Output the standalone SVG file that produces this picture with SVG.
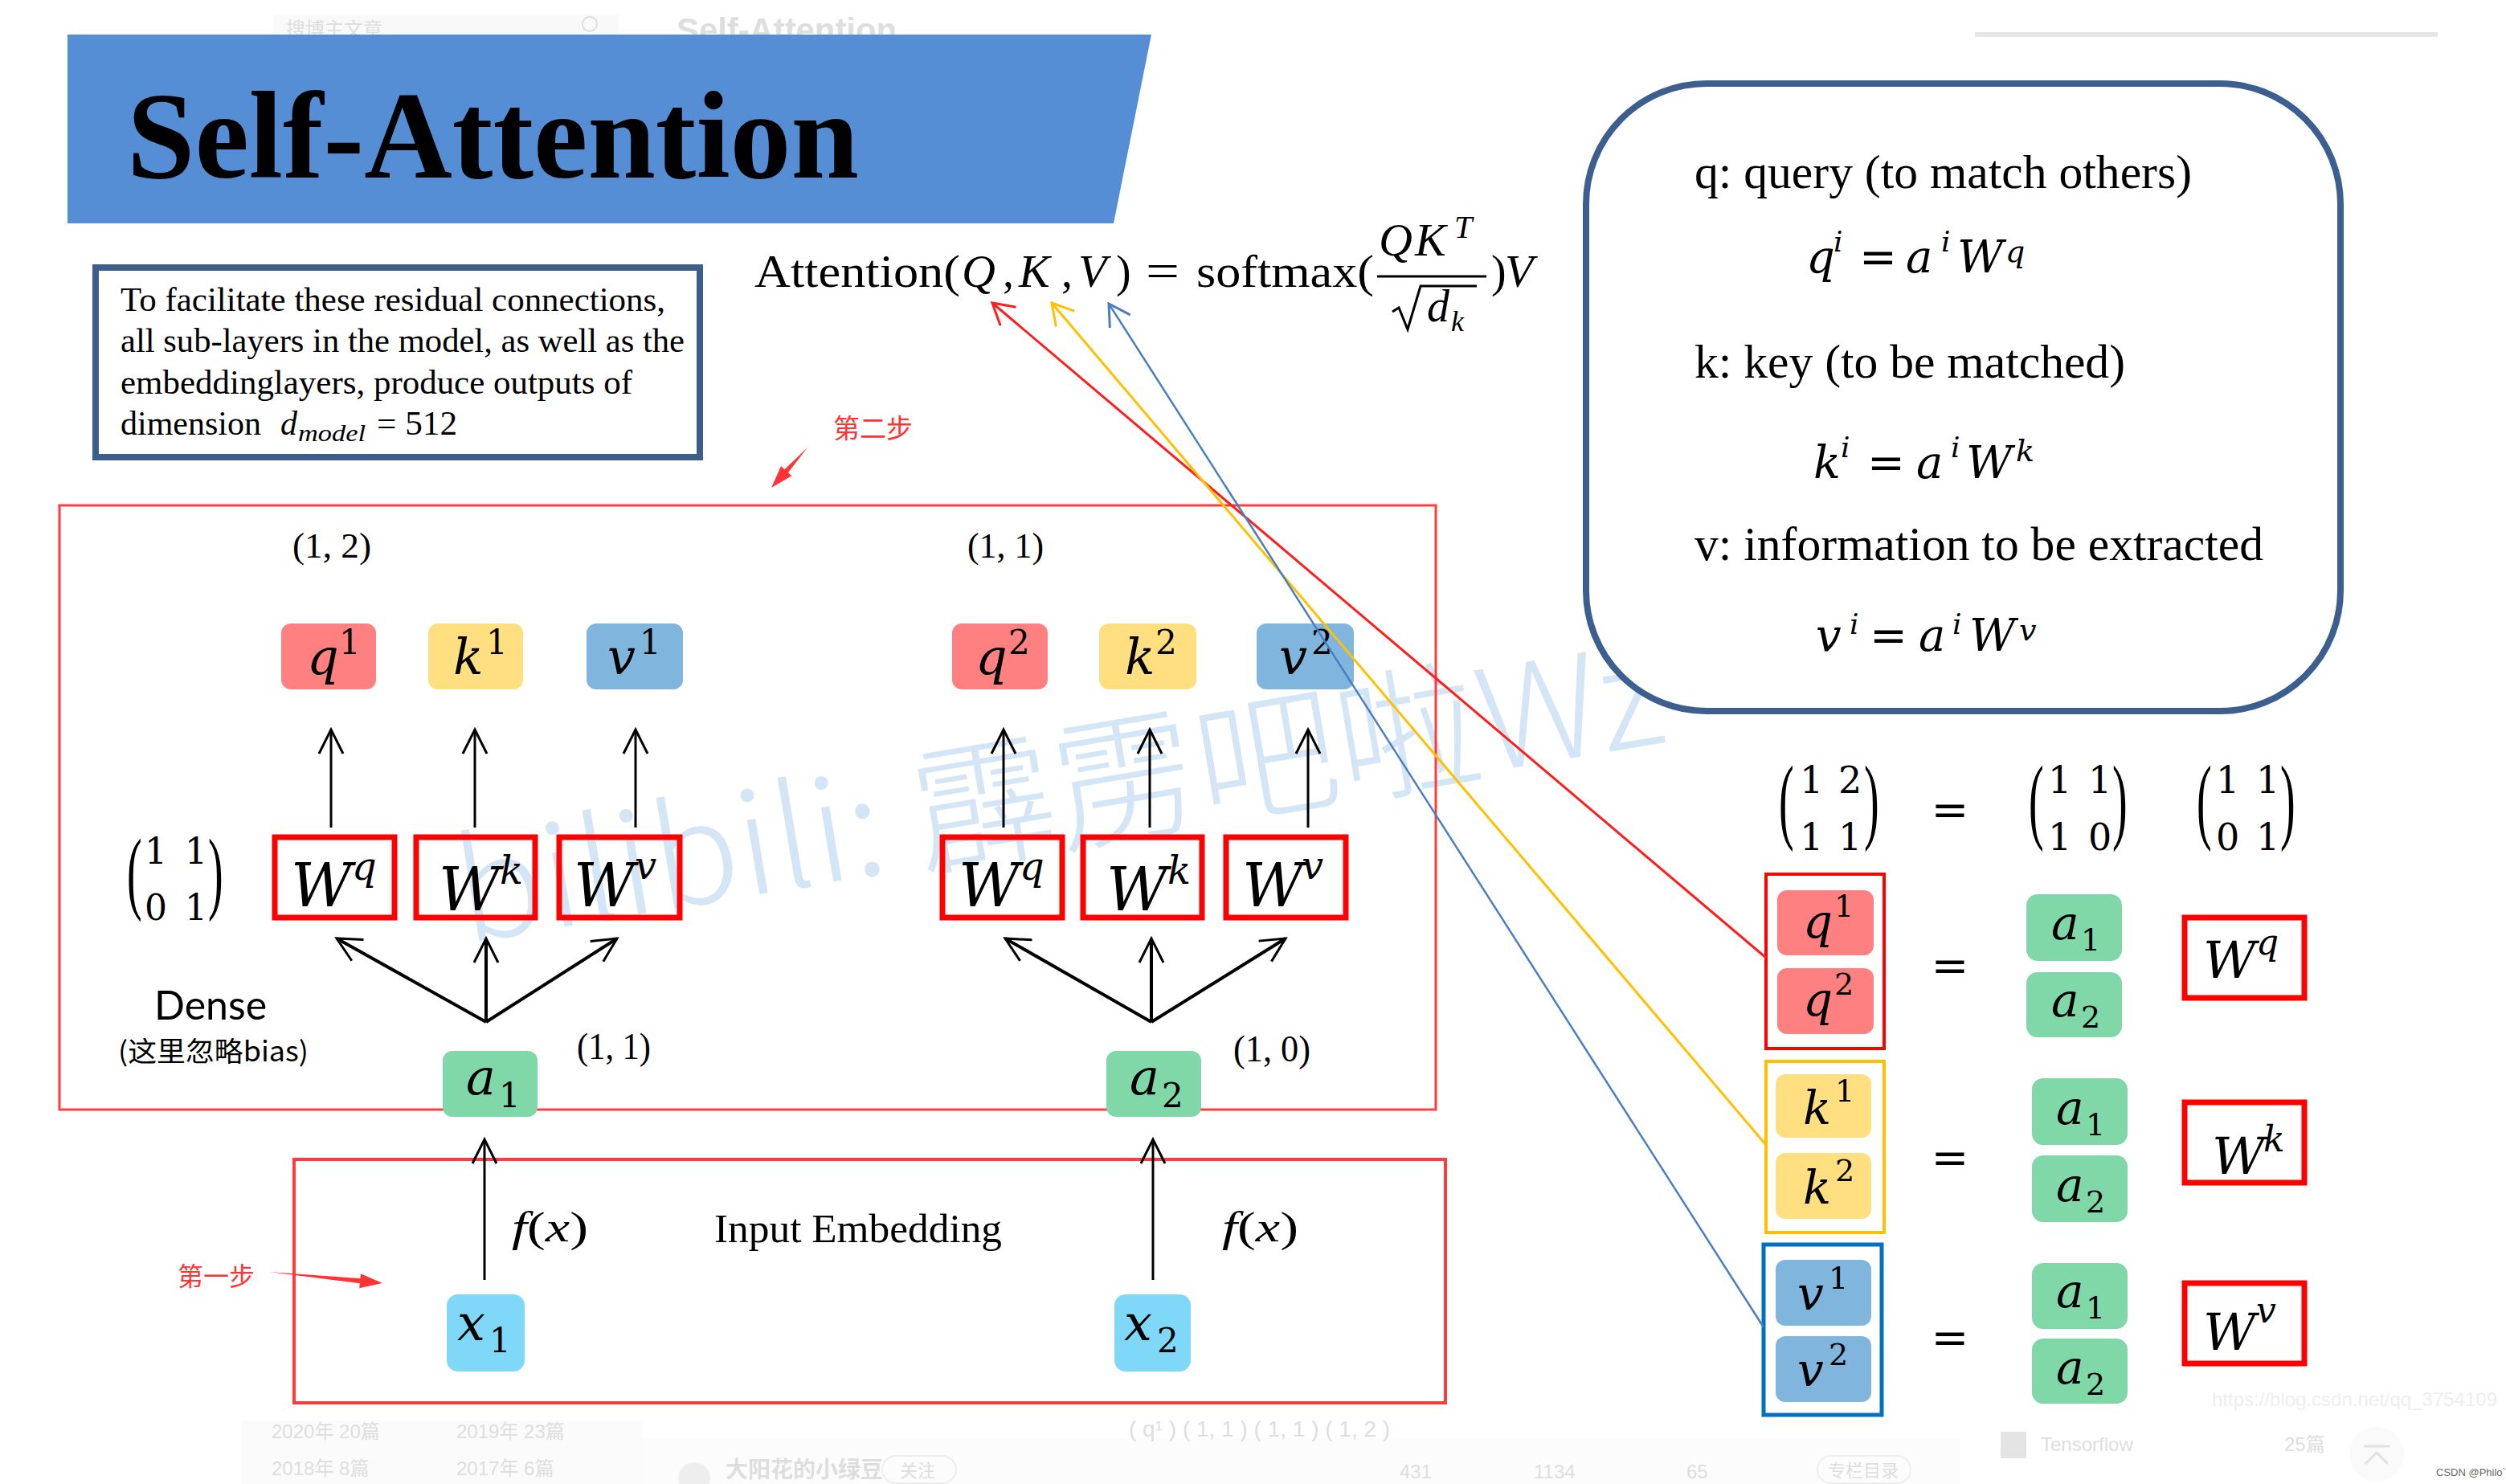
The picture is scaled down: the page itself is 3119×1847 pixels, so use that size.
<svg xmlns="http://www.w3.org/2000/svg" width="3119" height="1847" viewBox="0 0 3119 1847">
<defs>
<style>
.serif{font-family:"Liberation Serif","Times New Roman",serif;fill:#000}
.it{font-style:italic}
.m{font-family:"DejaVu Serif",serif;font-style:italic;fill:#000}
.d{font-family:"DejaVu Serif",serif;font-style:normal;fill:#000}
.faint{font-family:"Liberation Sans","Noto Sans CJK SC",sans-serif;fill:#DEDEDE}
.cjk{font-family:"Noto Sans CJK SC",sans-serif}
.q{fill:#FF8080}
.k{fill:#FFDF80}
.v{fill:#80B5DE}
.a{fill:#80D7A7}
.x{fill:#80D8F8}
.wbox{fill:none;stroke:#FF0000;stroke-width:7}
.up{stroke:#000;stroke-width:3;fill:none}
.fan{stroke:#000;stroke-width:4;fill:none}
</style>
<marker id="ah" markerUnits="userSpaceOnUse" viewBox="-40 -20 44 40" refX="0" refY="0" markerWidth="44" markerHeight="40" orient="auto" overflow="visible">
<path d="M-30,-15 L0,0 L-30,15" fill="none" stroke="#000" stroke-width="3"/>
</marker>
<marker id="ahr" markerUnits="userSpaceOnUse" viewBox="-40 -20 44 40" refX="0" refY="0" markerWidth="44" markerHeight="40" orient="auto" overflow="visible">
<path d="M-26,-15 L0,0 L-26,15" fill="none" stroke="#FF1E1E" stroke-width="3"/>
</marker>
<marker id="ahy" markerUnits="userSpaceOnUse" viewBox="-40 -20 44 40" refX="0" refY="0" markerWidth="44" markerHeight="40" orient="auto" overflow="visible">
<path d="M-26,-15 L0,0 L-26,15" fill="none" stroke="#FFC000" stroke-width="3"/>
</marker>
<marker id="ahb" markerUnits="userSpaceOnUse" viewBox="-40 -20 44 40" refX="0" refY="0" markerWidth="44" markerHeight="40" orient="auto" overflow="visible">
<path d="M-26,-15 L0,0 L-26,15" fill="none" stroke="#4A7EC2" stroke-width="3"/>
</marker>
</defs>
<rect width="3119" height="1847" fill="#FFFFFF"/>

<!-- faint webpage background -->
<g id="background">
<rect x="340" y="18" width="430" height="40" fill="#F9F9F9"/>
<text x="356" y="45" class="faint" font-size="24">搜博主文章</text>
<circle cx="734" cy="30" r="9" fill="none" stroke="#DDDDDD" stroke-width="2"/>
<text x="842" y="52" class="faint" font-size="42" font-weight="bold" textLength="274" lengthAdjust="spacingAndGlyphs">Self-Attention</text>
<rect x="2458" y="40" width="576" height="6" fill="#E6E6E6"/>
<rect x="300" y="1768" width="500" height="79" fill="#FBFBFB"/>
<rect x="800" y="1790" width="1640" height="57" fill="#FCFCFC"/>
<text x="338" y="1790" class="faint" font-size="24">2020年 20篇</text>
<text x="568" y="1790" class="faint" font-size="24">2019年 23篇</text>
<text x="338" y="1836" class="faint" font-size="24">2018年 8篇</text>
<text x="568" y="1836" class="faint" font-size="24">2017年 6篇</text>
<text x="1405" y="1788" class="faint" font-size="28">( q¹ )    ( 1, 1 ) ( 1, 1 )    ( 1, 2 )</text>
<circle cx="864" cy="1840" r="20" fill="#EEEEEE"/>
<text x="903" y="1839" class="faint" font-size="28" font-weight="bold">大阳花的小绿豆</text>
<rect x="1098" y="1812" width="92" height="34" rx="17" fill="none" stroke="#EEEEEE" stroke-width="2"/>
<text x="1120" y="1838" class="faint" font-size="22">关注</text>
<text x="1742" y="1840" class="faint" font-size="24">431</text>
<text x="1909" y="1840" class="faint" font-size="24">1134</text>
<text x="2099" y="1840" class="faint" font-size="24">65</text>
<rect x="2262" y="1812" width="116" height="34" rx="17" fill="none" stroke="#EEEEEE" stroke-width="2"/>
<text x="2275" y="1838" class="faint" font-size="22">专栏目录</text>
<rect x="2490" y="1782" width="32" height="33" fill="#E4E4E4"/>
<text x="2540" y="1806" class="faint" font-size="24">Tensorflow</text>
<text x="2843" y="1806" class="faint" font-size="24">25篇</text>
<circle cx="2958" cy="1810" r="34" fill="#FAFAFA"/>
<path d="M2942,1800 L2974,1800 M2944,1822 L2958,1808 L2972,1822" fill="none" stroke="#E0E0E0" stroke-width="3"/>
<text x="2753" y="1750" class="faint" font-size="24" textLength="355" lengthAdjust="spacingAndGlyphs" style="fill:#EEEEEE">https://blog.csdn.net/qq_3754109</text>
<text x="3032" y="1837" font-family="Liberation Sans,sans-serif" font-size="13" fill="#666666">CSDN @Philo`</text>
</g>

<!-- watermark -->
<text id="watermark" x="579" y="1174" transform="rotate(-9.5 579 1174)" font-family="Noto Sans CJK SC,sans-serif" font-weight="300" font-size="175" fill="#D4E5F5" textLength="1520" lengthAdjust="spacingAndGlyphs">bilibili: 霹雳吧啦Wz</text>

<!-- title -->
<g id="title">
<polygon points="84,43 1433,43 1386,278 84,278" fill="#558ED5"/>
<text x="158" y="221" class="serif" font-size="155" font-weight="bold" textLength="911" lengthAdjust="spacingAndGlyphs">Self-Attention</text>
</g>

<!-- residual text box -->
<g id="residual-note">
<rect x="119" y="333" width="752" height="236" fill="#FFFFFF" stroke="#3B5E8C" stroke-width="8"/>
<text x="150" y="387" class="serif" font-size="42" textLength="678" lengthAdjust="spacingAndGlyphs">To facilitate these residual connections,</text>
<text x="150" y="438" class="serif" font-size="42" textLength="702" lengthAdjust="spacingAndGlyphs">all sub-layers in the model, as well as the</text>
<text x="150" y="490" class="serif" font-size="42" textLength="637" lengthAdjust="spacingAndGlyphs">embeddinglayers, produce outputs of</text>
<text x="150" y="541" class="serif" font-size="42" textLength="175" lengthAdjust="spacingAndGlyphs">dimension</text>
<text x="349" y="541" class="serif it" font-size="42">d</text>
<text x="371" y="549" class="serif it" font-size="30" textLength="84" lengthAdjust="spacingAndGlyphs">model</text>
<text x="469" y="541" class="serif" font-size="42" textLength="100" lengthAdjust="spacingAndGlyphs">= 512</text>
</g>

<!-- attention formula -->
<g id="formula">
<text x="939" y="357" class="serif" font-size="56" textLength="256" lengthAdjust="spacingAndGlyphs">Attention(</text>
<text x="1197" y="357" class="serif it" font-size="58">Q</text>
<text x="1248" y="357" class="serif" font-size="56">,</text>
<text x="1268" y="357" class="serif it" font-size="58">K</text>
<text x="1321" y="357" class="serif" font-size="56">,</text>
<text x="1342" y="357" class="serif it" font-size="58">V</text>
<text x="1389" y="357" class="serif" font-size="56">)</text>
<text x="1426" y="357" class="serif" font-size="60" textLength="42" lengthAdjust="spacingAndGlyphs">=</text>
<text x="1489" y="357" class="serif" font-size="56" textLength="221" lengthAdjust="spacingAndGlyphs">softmax(</text>
<text x="1716" y="318" class="serif it" font-size="58">Q</text>
<text x="1761" y="318" class="serif it" font-size="58">K</text>
<text x="1810" y="296" class="serif it" font-size="40">T</text>
<line x1="1714" y1="344" x2="1850" y2="344" stroke="#000" stroke-width="3"/>
<polyline points="1733,388 1741,383 1752,410 1768,356 1838,356" fill="none" stroke="#000" stroke-width="3"/>
<text x="1776" y="400" class="serif it" font-size="56">d</text>
<text x="1806" y="412" class="serif it" font-size="36">k</text>
<text x="1856" y="357" class="serif" font-size="56">)</text>
<text x="1873" y="357" class="serif it" font-size="58">V</text>
</g>

<!-- q k v definition box -->
<g id="definitions">
<rect x="1974" y="104" width="939" height="781" rx="150" ry="150" fill="#FFFFFF" stroke="#3C5F8F" stroke-width="8"/>
<text x="2109" y="234" class="serif" font-size="60" textLength="619" lengthAdjust="spacingAndGlyphs">q: query (to match others)</text>
<text class="m" font-size="56"><tspan x="2248" y="339">q</tspan><tspan x="2282" y="313" font-size="36">i</tspan><tspan x="2314" y="339" class="d">=</tspan><tspan x="2372" y="339">a</tspan><tspan x="2416" y="313" font-size="36">i</tspan><tspan x="2436" y="339">W</tspan><tspan x="2496" y="326" font-size="38">q</tspan></text>
<text x="2109" y="470" class="serif" font-size="60" textLength="536" lengthAdjust="spacingAndGlyphs">k: key (to be matched)</text>
<text class="m" font-size="56"><tspan x="2257" y="595">k</tspan><tspan x="2291" y="569" font-size="36">i</tspan><tspan x="2324" y="595" class="d">=</tspan><tspan x="2385" y="595">a</tspan><tspan x="2428" y="569" font-size="36">i</tspan><tspan x="2447" y="595">W</tspan><tspan x="2509" y="574" font-size="38">k</tspan></text>
<text x="2109" y="697" class="serif" font-size="60" textLength="708" lengthAdjust="spacingAndGlyphs">v: information to be extracted</text>
<text class="m" font-size="56"><tspan x="2260" y="810">v</tspan><tspan x="2302" y="789" font-size="36">i</tspan><tspan x="2327" y="810" class="d">=</tspan><tspan x="2388" y="810">a</tspan><tspan x="2430" y="789" font-size="36">i</tspan><tspan x="2451" y="810">W</tspan><tspan x="2513" y="797" font-size="38">v</tspan></text>
</g>

<!-- containers -->
<g id="dense-layer">
<rect x="74" y="629" width="1713" height="752" fill="none" stroke="#FF3B3B" stroke-width="3"/>
<text x="192" y="1269" font-family="Lato,Liberation Sans,sans-serif" font-size="50" fill="#000">Dense</text>
<text x="147" y="1321" class="cjk" font-size="34" fill="#000" textLength="237" lengthAdjust="spacingAndGlyphs">(这里忽略bias)</text>
<text x="364" y="694" class="serif" font-size="44" textLength="98" lengthAdjust="spacingAndGlyphs">(1, 2)</text>
<text x="1204" y="694" class="serif" font-size="44" textLength="95" lengthAdjust="spacingAndGlyphs">(1, 1)</text>
<text x="718" y="1318" class="serif" font-size="46" textLength="92" lengthAdjust="spacingAndGlyphs">(1, 1)</text>
<text x="1535" y="1321" class="serif" font-size="46" textLength="96" lengthAdjust="spacingAndGlyphs">(1, 0)</text>
</g>
<g id="dense-matrix">
<text transform="translate(158,1123) scale(1,2.05)" class="serif" font-size="56">(</text>
<text transform="translate(259,1123) scale(1,2.05)" class="serif" font-size="56">)</text>
<text x="180" y="1075" class="d" font-size="44">1</text>
<text x="230" y="1075" class="d" font-size="44">1</text>
<text x="180" y="1145" class="d" font-size="44">0</text>
<text x="230" y="1145" class="d" font-size="44">1</text>
</g>
<g id="input-embedding">
<rect x="366" y="1443" width="1433" height="303" fill="none" stroke="#FF3B3B" stroke-width="4"/>
<text x="889" y="1546" class="serif" font-size="51" textLength="358" lengthAdjust="spacingAndGlyphs">Input Embedding</text>
<text x="637" y="1545" class="serif" font-size="52" textLength="95" lengthAdjust="spacingAndGlyphs"><tspan class="it">f</tspan>(<tspan class="it">x</tspan>)</text>
<text x="1521" y="1545" class="serif" font-size="52" textLength="95" lengthAdjust="spacingAndGlyphs"><tspan class="it">f</tspan>(<tspan class="it">x</tspan>)</text>
</g>

<!-- step labels -->
<g id="step1">
<text x="221" y="1600" class="cjk" font-size="32" fill="#FF3333">第一步</text>
<polygon points="335,1583 448.4,1591.2 449,1585.2 476,1597 447.2,1603.2 447.8,1597.2" fill="#FF3333"/>
</g>
<g id="step2">
<text x="1037" y="545" class="cjk" font-size="33" fill="#FF3333">第二步</text>
<polygon points="1005,557 980.9,588.2 985.4,592.2 960,607 972,580.2 976.5,584.2" fill="#FF3333"/>
</g>

<!-- connectors -->
<g id="connectors">
<line x1="412" y1="1030" x2="412" y2="908" class="up" marker-end="url(#ah)"/>
<line x1="591" y1="1030" x2="591" y2="908" class="up" marker-end="url(#ah)"/>
<line x1="791" y1="1030" x2="791" y2="908" class="up" marker-end="url(#ah)"/>
<line x1="1249" y1="1030" x2="1249" y2="908" class="up" marker-end="url(#ah)"/>
<line x1="1431" y1="1030" x2="1431" y2="908" class="up" marker-end="url(#ah)"/>
<line x1="1628" y1="1030" x2="1628" y2="908" class="up" marker-end="url(#ah)"/>
<line x1="605" y1="1272" x2="419" y2="1168" class="fan" marker-end="url(#ah)"/>
<line x1="605" y1="1272" x2="605" y2="1168" class="fan" marker-end="url(#ah)"/>
<line x1="605" y1="1272" x2="768" y2="1168" class="fan" marker-end="url(#ah)"/>
<line x1="1433" y1="1272" x2="1251" y2="1168" class="fan" marker-end="url(#ah)"/>
<line x1="1433" y1="1272" x2="1433" y2="1168" class="fan" marker-end="url(#ah)"/>
<line x1="1433" y1="1272" x2="1600" y2="1168" class="fan" marker-end="url(#ah)"/>
<line x1="603" y1="1593" x2="603" y2="1418" class="up" marker-end="url(#ah)"/>
<line x1="1435" y1="1593" x2="1435" y2="1418" class="up" marker-end="url(#ah)"/>
</g>

<!-- left nodes -->
<g id="q1"><rect x="350" y="776" width="118" height="82" rx="12" class="q"/><text x="382" y="839" class="m" font-size="62">q</text><text x="422" y="814" class="d" font-size="42">1</text></g>
<g id="k1"><rect x="533" y="776" width="118" height="82" rx="12" class="k"/><text x="564" y="839" class="m" font-size="62">k</text><text x="605" y="814" class="d" font-size="42">1</text></g>
<g id="v1"><rect x="730" y="776" width="120" height="82" rx="12" class="v"/><text x="756" y="839" class="m" font-size="62">v</text><text x="796" y="814" class="d" font-size="42">1</text></g>
<g id="q2"><rect x="1185" y="776" width="119" height="82" rx="12" class="q"/><text x="1214" y="839" class="m" font-size="62">q</text><text x="1255" y="814" class="d" font-size="42">2</text></g>
<g id="k2"><rect x="1368" y="776" width="121" height="82" rx="12" class="k"/><text x="1400" y="839" class="m" font-size="62">k</text><text x="1438" y="814" class="d" font-size="42">2</text></g>
<g id="v2"><rect x="1564" y="776" width="121" height="82" rx="12" class="v"/><text x="1592" y="839" class="m" font-size="62">v</text><text x="1632" y="814" class="d" font-size="42">2</text></g>

<g id="Wq1"><rect x="342" y="1042" width="149" height="100" class="wbox"/><text x="362" y="1128" class="m" font-size="74">W</text><text x="438" y="1095" class="m" font-size="48">q</text></g>
<g id="Wk1"><rect x="518" y="1042" width="148" height="100" class="wbox"/><text x="546" y="1133" class="m" font-size="74">W</text><text x="622" y="1100" class="m" font-size="48">k</text></g>
<g id="Wv1"><rect x="696" y="1042" width="150" height="100" class="wbox"/><text x="714" y="1128" class="m" font-size="74">W</text><text x="790" y="1094" class="m" font-size="48">v</text></g>
<g id="Wq2"><rect x="1173" y="1042" width="149" height="100" class="wbox"/><text x="1193" y="1128" class="m" font-size="74">W</text><text x="1269" y="1095" class="m" font-size="48">q</text></g>
<g id="Wk2"><rect x="1348" y="1042" width="148" height="100" class="wbox"/><text x="1377" y="1133" class="m" font-size="74">W</text><text x="1453" y="1100" class="m" font-size="48">k</text></g>
<g id="Wv2"><rect x="1526" y="1042" width="149" height="100" class="wbox"/><text x="1546" y="1128" class="m" font-size="74">W</text><text x="1620" y="1094" class="m" font-size="48">v</text></g>

<g id="a1"><rect x="551" y="1308" width="118" height="82" rx="12" class="a"/><text x="580" y="1362" class="m" font-size="62">a</text><text x="621" y="1378" class="d" font-size="42">1</text></g>
<g id="a2"><rect x="1377" y="1308" width="118" height="82" rx="12" class="a"/><text x="1406" y="1362" class="m" font-size="62">a</text><text x="1446" y="1378" class="d" font-size="42">2</text></g>
<g id="x1"><rect x="556" y="1611" width="97" height="96" rx="14" class="x"/><text x="569" y="1668" class="m" font-size="62">x</text><text x="609" y="1683" class="d" font-size="42">1</text></g>
<g id="x2"><rect x="1387" y="1611" width="95" height="96" rx="14" class="x"/><text x="1399" y="1668" class="m" font-size="62">x</text><text x="1440" y="1683" class="d" font-size="42">2</text></g>

<!-- right matrix equation -->
<g id="matrix-eq">
<text transform="translate(2214,1035) scale(1,2.1)" class="serif" font-size="56">(</text>
<text transform="translate(2320,1035) scale(1,2.1)" class="serif" font-size="56">)</text>
<text x="2240" y="987" class="d" font-size="46">1</text><text x="2288" y="987" class="d" font-size="46">2</text>
<text x="2240" y="1058" class="d" font-size="46">1</text><text x="2288" y="1058" class="d" font-size="46">1</text>
<text x="2427" y="1027" text-anchor="middle" font-family="DejaVu Sans,sans-serif" font-size="56">=</text>
<text transform="translate(2525,1035) scale(1,2.1)" class="serif" font-size="56">(</text>
<text transform="translate(2629,1035) scale(1,2.1)" class="serif" font-size="56">)</text>
<text x="2549" y="987" class="d" font-size="46">1</text><text x="2599" y="987" class="d" font-size="46">1</text>
<text x="2549" y="1058" class="d" font-size="46">1</text><text x="2599" y="1058" class="d" font-size="46">0</text>
<text transform="translate(2734,1035) scale(1,2.1)" class="serif" font-size="56">(</text>
<text transform="translate(2838,1035) scale(1,2.1)" class="serif" font-size="56">)</text>
<text x="2758" y="987" class="d" font-size="46">1</text><text x="2808" y="987" class="d" font-size="46">1</text>
<text x="2758" y="1058" class="d" font-size="46">0</text><text x="2808" y="1058" class="d" font-size="46">1</text>
</g>

<g id="Q-group">
<rect x="2198" y="1088" width="147" height="217" fill="none" stroke="#FF0000" stroke-width="4"/>
<rect x="2212" y="1108" width="120" height="81" rx="12" class="q"/><text x="2244" y="1167" class="m" font-size="58">q</text><text x="2283" y="1141" class="d" font-size="38">1</text>
<rect x="2212" y="1205" width="120" height="82" rx="12" class="q"/><text x="2244" y="1264" class="m" font-size="58">q</text><text x="2283" y="1238" class="d" font-size="38">2</text>
</g>
<g id="K-group">
<rect x="2198" y="1321" width="147" height="213" fill="none" stroke="#FFC000" stroke-width="4"/>
<rect x="2210" y="1337" width="119" height="79" rx="12" class="k"/><text x="2244" y="1399" class="m" font-size="58">k</text><text x="2284" y="1371" class="d" font-size="38">1</text>
<rect x="2210" y="1435" width="119" height="82" rx="12" class="k"/><text x="2244" y="1498" class="m" font-size="58">k</text><text x="2284" y="1470" class="d" font-size="38">2</text>
</g>
<g id="V-group">
<rect x="2195" y="1549" width="147" height="212" fill="none" stroke="#0070C0" stroke-width="5"/>
<rect x="2210" y="1568" width="119" height="82" rx="12" class="v"/><text x="2237" y="1630" class="m" font-size="58">v</text><text x="2276" y="1604" class="d" font-size="38">1</text>
<rect x="2210" y="1663" width="119" height="82" rx="12" class="v"/><text x="2237" y="1725" class="m" font-size="58">v</text><text x="2276" y="1699" class="d" font-size="38">2</text>
</g>
<g id="equals">
<text x="2427" y="1221" text-anchor="middle" font-family="DejaVu Sans,sans-serif" font-size="56">=</text>
<text x="2427" y="1460" text-anchor="middle" font-family="DejaVu Sans,sans-serif" font-size="56">=</text>
<text x="2427" y="1684" text-anchor="middle" font-family="DejaVu Sans,sans-serif" font-size="56">=</text>
</g>
<g id="A-q">
<rect x="2522" y="1113" width="119" height="83" rx="14" class="a"/><text x="2553" y="1169" class="m" font-size="58">a</text><text x="2590" y="1183" class="d" font-size="38">1</text>
<rect x="2522" y="1210" width="119" height="81" rx="14" class="a"/><text x="2553" y="1265" class="m" font-size="58">a</text><text x="2590" y="1279" class="d" font-size="38">2</text>
</g>
<g id="A-k">
<rect x="2529" y="1342" width="119" height="83" rx="14" class="a"/><text x="2559" y="1399" class="m" font-size="58">a</text><text x="2596" y="1413" class="d" font-size="38">1</text>
<rect x="2529" y="1438" width="119" height="83" rx="14" class="a"/><text x="2559" y="1495" class="m" font-size="58">a</text><text x="2596" y="1509" class="d" font-size="38">2</text>
</g>
<g id="A-v">
<rect x="2529" y="1572" width="119" height="82" rx="14" class="a"/><text x="2559" y="1627" class="m" font-size="58">a</text><text x="2596" y="1641" class="d" font-size="38">1</text>
<rect x="2529" y="1666" width="119" height="81" rx="14" class="a"/><text x="2559" y="1722" class="m" font-size="58">a</text><text x="2596" y="1736" class="d" font-size="38">2</text>
</g>
<g id="Wq-r"><rect x="2719" y="1142" width="149" height="100" class="wbox"/><text x="2742" y="1217" class="m" font-size="64">W</text><text x="2808" y="1188" class="m" font-size="44">q</text></g>
<g id="Wk-r"><rect x="2719" y="1372" width="149" height="100" class="wbox"/><text x="2753" y="1461" class="m" font-size="64">W</text><text x="2817" y="1433" class="m" font-size="44">k</text></g>
<g id="Wv-r"><rect x="2719" y="1597" width="149" height="100" class="wbox"/><text x="2742" y="1680" class="m" font-size="64">W</text><text x="2808" y="1646" class="m" font-size="44">v</text></g>

<!-- colored connectors to formula -->
<g id="formula-links" fill="none">
<line x1="2198" y1="1192" x2="1235" y2="377" stroke="#FF1E1E" stroke-width="3" marker-end="url(#ahr)"/>
<line x1="2198" y1="1425" x2="1309" y2="377" stroke="#FFC000" stroke-width="3" marker-end="url(#ahy)"/>
<line x1="2195" y1="1652" x2="1380" y2="378" stroke="#4A7EC2" stroke-width="2.5" marker-end="url(#ahb)"/>
</g>
</svg>
